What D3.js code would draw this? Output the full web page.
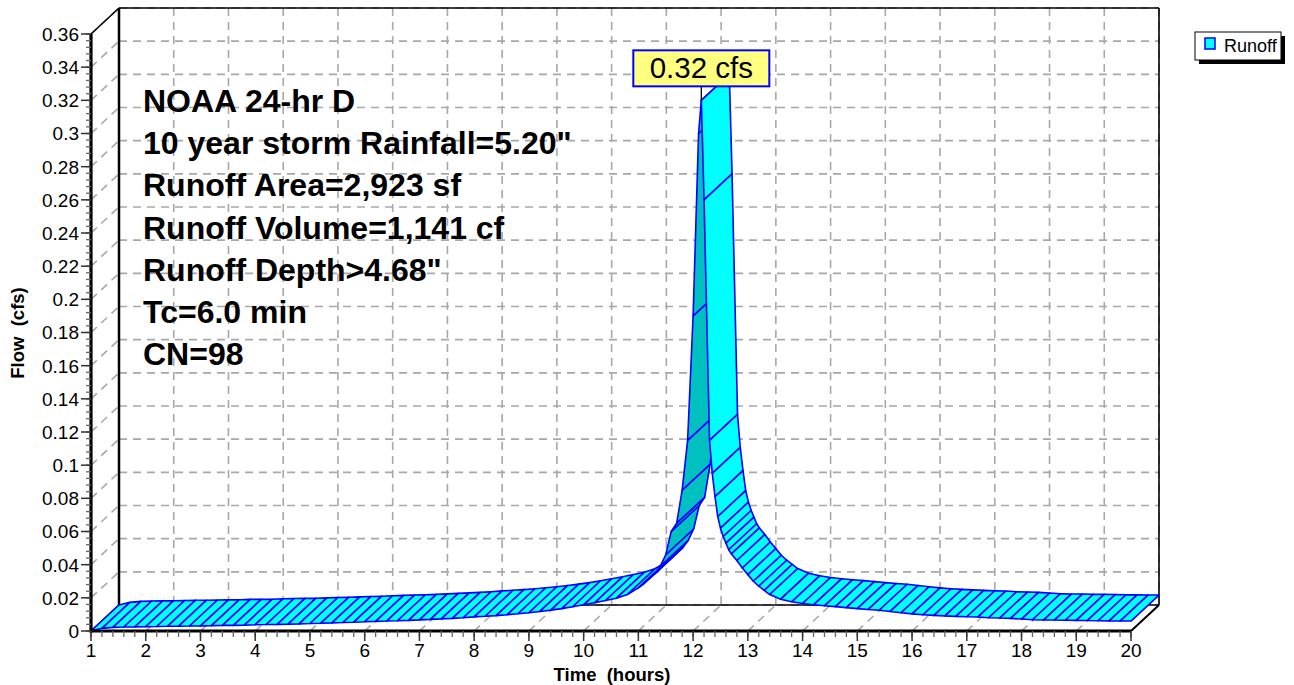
<!DOCTYPE html>
<html><head><meta charset="utf-8">
<script src="https://cdn.jsdelivr.net/npm/d3@7"></script>
<style>body{margin:0;background:#fff;} svg{display:block;font-family:"Liberation Sans",Arial,sans-serif;}</style>
</head><body><svg id="c" width="1294" height="685"></svg>
<script>
// ---- data ----
const times = [1.0,1.2,1.4,1.6,1.8,2.0,2.2,2.4,2.6,2.8,3.0,3.2,3.4,3.6,3.8,4.0,4.2,4.4,4.6,4.8,5.0,5.2,5.4,5.6,5.8,6.0,6.2,6.4,6.6,6.8,7.0,7.2,7.4,7.6,7.8,8.0,8.2,8.4,8.6,8.8,9.0,9.2,9.4,9.6,9.8,10.0,10.2,10.4,10.6,10.8,11.0,11.1,11.2,11.3,11.4,11.5,11.6,11.7,11.8,11.9,12.0,12.1,12.15,12.2,12.3,12.35,12.4,12.45,12.5,12.55,12.6,12.65,12.7,12.8,12.9,13.0,13.1,13.2,13.3,13.4,13.6,13.8,14.0,14.2,14.4,14.6,14.8,15.0,15.2,15.4,15.6,15.8,16.0,16.2,16.4,16.6,16.8,17.0,17.2,17.4,17.6,17.8,18.0,18.2,18.4,18.6,18.8,19.0,19.2,19.4,19.6,19.8,20.0];
const runoff = [0,0.0016,0.0022,0.0024,0.0025,0.0026,0.0027,0.0029,0.0029,0.0030,0.0031,0.0032,0.0034,0.0034,0.0035,0.0038,0.0039,0.0040,0.0041,0.0043,0.0045,0.0047,0.0049,0.0051,0.0053,0.0056,0.0058,0.0060,0.0062,0.0064,0.0067,0.0070,0.0073,0.0076,0.0080,0.0085,0.0089,0.0093,0.0098,0.0104,0.0110,0.0118,0.0126,0.0135,0.0146,0.0158,0.0170,0.0184,0.0198,0.0220,0.0260,0.0285,0.0315,0.0345,0.0390,0.0460,0.0600,0.0650,0.0850,0.1150,0.1900,0.3000,0.3200,0.2600,0.1150,0.0950,0.0810,0.0690,0.0620,0.0570,0.0530,0.0490,0.0465,0.0425,0.0380,0.0340,0.0300,0.0270,0.0245,0.0220,0.0192,0.0176,0.0166,0.0158,0.0152,0.0147,0.0141,0.0135,0.0130,0.0125,0.0118,0.0110,0.0103,0.0098,0.0094,0.0091,0.0088,0.0086,0.0084,0.0080,0.0078,0.0076,0.0072,0.0068,0.0066,0.0066,0.0065,0.0064,0.0063,0.0062,0.0061,0.0060,0.0060];
const xTicks = [1,2,3,4,5,6,7,8,9,10,11,12,13,14,15,16,17,18,19,20];
const yTicks = [0,0.02,0.04,0.06,0.08,0.1,0.12,0.14,0.16,0.18,0.2,0.22,0.24,0.26,0.28,0.3,0.32,0.34,0.36];
const notes = ["NOAA 24-hr D","10 year storm Rainfall=5.20\"","Runoff Area=2,923 sf","Runoff Volume=1,141 cf","Runoff Depth>4.68\"","Tc=6.0 min","CN=98"];
const peakLabel = "0.32 cfs";
const seriesName = "Runoff";

// ---- layout ----
const DX = 28, DY = -26;
const svg = d3.select("#c");
const x = d3.scaleLinear().domain([1,20]).range([91,1131]);
const y = d3.scaleLinear().domain([0,0.36]).range([631,34]);
const X0 = x(1), X1 = x(20), Y0 = y(0), Y1 = y(0.36);

const grid = svg.append("g").attr("stroke","#a8a8a8").attr("stroke-width",1.6).attr("stroke-dasharray","8,6").attr("fill","none");
yTicks.forEach(v=>grid.append("line").attr("x1",X0+DX).attr("x2",X1+DX).attr("y1",y(v)+DY).attr("y2",y(v)+DY));
xTicks.forEach(t=>grid.append("line").attr("x1",x(t)+DX).attr("x2",x(t)+DX).attr("y1",Y1+DY).attr("y2",Y0+DY));
yTicks.forEach(v=>grid.append("line").attr("x1",X0).attr("y1",y(v)).attr("x2",X0+DX).attr("y2",y(v)+DY));
xTicks.forEach(t=>grid.append("line").attr("x1",x(t)).attr("y1",Y0).attr("x2",x(t)+DX).attr("y2",Y0+DY));

// frame lines
const fr = svg.append("g").attr("stroke","#000").attr("fill","none");
fr.append("line").attr("x1",X0).attr("y1",Y1).attr("x2",X0+DX).attr("y2",Y1+DY).attr("stroke-width",1.6);
fr.append("line").attr("x1",X0+DX).attr("y1",Y1+DY).attr("x2",X1+DX).attr("y2",Y1+DY).attr("stroke-width",1.6);
fr.append("line").attr("x1",X1+DX).attr("y1",Y1+DY).attr("x2",X1+DX).attr("y2",Y0+DY).attr("stroke-width",1.6);
fr.append("line").attr("x1",X0+DX).attr("y1",Y1+DY).attr("x2",X0+DX).attr("y2",Y0+DY).attr("stroke-width",2.5);
fr.append("line").attr("x1",X0+DX).attr("y1",Y0+DY).attr("x2",X1+DX).attr("y2",Y0+DY).attr("stroke-width",1.6);
fr.append("line").attr("x1",X0).attr("y1",Y0).attr("x2",X0+DX).attr("y2",Y0+DY).attr("stroke-width",1.6);
fr.append("line").attr("x1",X1).attr("y1",Y0).attr("x2",X1+DX).attr("y2",Y0+DY).attr("stroke-width",2);

// annotation text
const nt = svg.append("g").attr("font-weight","bold").attr("font-size",32).attr("fill","#000");
notes.forEach((s,i)=>nt.append("text").attr("x",143).attr("y",112+i*42.2).text(s));

// ribbon
const pts = times.map((t,i)=>({t, v:runoff[i]}));
const rib = svg.append("g");
for(let i=0;i<pts.length-1;i++){
  const a=pts[i], b=pts[i+1];
  const p0=[x(a.t),y(a.v)], p1=[x(b.t),y(b.v)], p2=[x(b.t)+DX,y(b.v)+DY], p3=[x(a.t)+DX,y(a.v)+DY];
  const cr = (p1[0]-p0[0])*(p3[1]-p0[1]) - (p1[1]-p0[1])*(p3[0]-p0[0]);
  rib.append("polygon").attr("points",[p0,p1,p2,p3].map(p=>p.join(",")).join(" "))
    .attr("fill", cr>0 ? "#00c0c0" : "#00ffff")
    .attr("stroke","#0000ff").attr("stroke-width",1.6).attr("stroke-linejoin","round");
}

// front axes
const ax = svg.append("g");
ax.append("line").attr("x1",X0).attr("y1",Y1).attr("x2",X0).attr("y2",Y0+1.5).attr("stroke","#000").attr("stroke-width",3.2);
ax.append("line").attr("x1",X0-1.5).attr("y1",Y0).attr("x2",X1).attr("y2",Y0).attr("stroke","#000").attr("stroke-width",3.2);
const yMinor = d3.range(0,0.3601,0.004);
yMinor.forEach(v=>ax.append("line").attr("x1",X0-5).attr("x2",X0).attr("y1",y(v)).attr("y2",y(v)).attr("stroke","#666").attr("stroke-width",1.3));
yTicks.forEach(v=>{
  ax.append("line").attr("x1",X0-10).attr("x2",X0).attr("y1",y(v)).attr("y2",y(v)).attr("stroke","#333").attr("stroke-width",1.5);
  ax.append("text").attr("x",X0-12).attr("y",y(v)).attr("dy","0.36em").attr("text-anchor","end").attr("font-size",19).text(d3.format("~g")(v));
});
const xMinor = d3.range(1,20.001,0.2);
xMinor.forEach(t=>ax.append("line").attr("x1",x(t)).attr("x2",x(t)).attr("y1",Y0).attr("y2",Y0+6).attr("stroke","#666").attr("stroke-width",1.3));
xTicks.forEach(t=>{
  ax.append("line").attr("x1",x(t)).attr("x2",x(t)).attr("y1",Y0).attr("y2",Y0+10).attr("stroke","#333").attr("stroke-width",1.5);
  ax.append("text").attr("x",x(t)).attr("y",657).attr("text-anchor","middle").attr("font-size",19).text(t);
});
svg.append("text").attr("x",612).attr("y",681).attr("text-anchor","middle").attr("font-weight","bold").attr("font-size",18.5).attr("xml:space","preserve").text("Time  (hours)");
svg.append("text").attr("transform","translate(24,333) rotate(-90)").attr("text-anchor","middle").attr("font-weight","bold").attr("font-size",18.5).attr("xml:space","preserve").text("Flow  (cfs)");

// peak label
let pk = 0; runoff.forEach((v,i)=>{ if(v>runoff[pk]) pk=i; });
const px = x(times[pk]), py = y(runoff[pk]);
svg.append("line").attr("x1",px).attr("y1",py).attr("x2",px).attr("y2",py-14).attr("stroke","#000").attr("stroke-width",1.3);
const lb = svg.append("g");
lb.append("rect").attr("x",px-68).attr("y",py-50).attr("width",136).attr("height",36).attr("fill","#ffff80").attr("stroke","#0000ff").attr("stroke-width",2);
lb.append("text").attr("x",px).attr("y",py-22).attr("text-anchor","middle").attr("font-size",29.5).text(peakLabel);

// legend
const lg = svg.append("g");
lg.append("rect").attr("x",1199).attr("y",36).attr("width",86).attr("height",28).attr("fill","#000");
lg.append("rect").attr("x",1195).attr("y",32).attr("width",86).attr("height",28).attr("fill","#fff").attr("stroke","#000").attr("stroke-width",1);
lg.append("rect").attr("x",1205).attr("y",38).attr("width",10).attr("height",11).attr("fill","#00ffff").attr("stroke","#0000ff").attr("stroke-width",1.5);
lg.append("text").attr("x",1224).attr("y",52).attr("font-size",18).text(seriesName);
</script></body></html>
